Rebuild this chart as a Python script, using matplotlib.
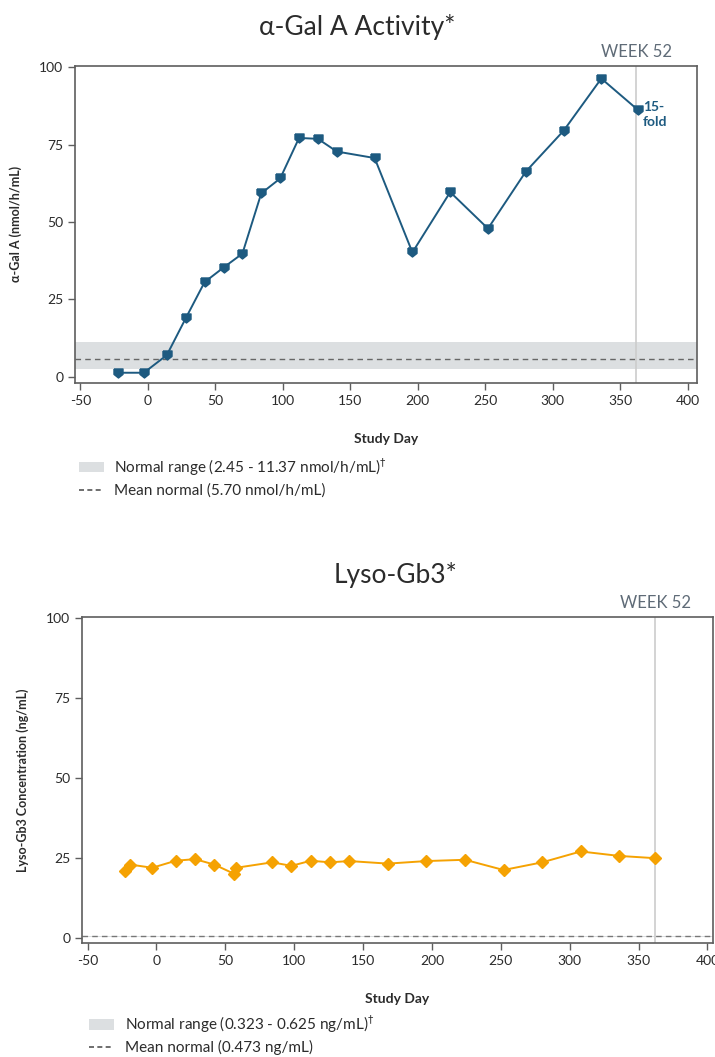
import matplotlib
matplotlib.use("Agg")
import matplotlib.pyplot as plt
import numpy as np

plt.rcParams['font.family'] = ['Lato', 'DejaVu Sans']
plt.rcParams['axes.unicode_minus'] = False

# alpha-Gal A activity (nmol/h/mL) by study day
gal_days = [-22, -3, 14, 28, 42, 56, 70, 84, 98, 112, 126, 140, 168, 196, 224, 252, 280, 308, 336, 363]
gal_vals = [1.3, 1.3, 7.0, 18.9, 30.6, 35.3, 39.8, 59.3, 64.1, 77.2, 76.9, 72.8, 70.7, 40.2, 59.7, 47.9, 66.3, 79.5, 96.4, 86.3]
gal_range = [2.45, 11.37]
gal_mean = 5.70

# Lyso-Gb3 concentration (ng/mL) by study day
lyso_days = [-23, -19, -3, 14, 28, 42, 56, 58, 84, 98, 112, 126, 140, 168, 196, 224, 252, 280, 308, 336, 362]
lyso_vals = [20.9, 22.9, 21.9, 24.1, 24.6, 22.9, 20.1, 21.9, 23.6, 22.5, 24.1, 23.6, 24.0, 23.2, 24.0, 24.4, 21.2, 23.6, 27.0, 25.6, 24.9]
lyso_range = [0.323, 0.625]
lyso_mean = 0.473

week52 = 362
xticks = [-50, 0, 50, 100, 150, 200, 250, 300, 350, 400]
yticks = [0, 25, 50, 75, 100]

blue = '#1d5a80'
orange = '#f5a202'
frame = '#5e5e5e'
band = '#dcdfe1'
txt = '#2b2b2b'

# shield-like marker: flat top, pointed bottom
shield = [(-1, 1), (1, 1), (1, -0.2), (0, -1), (-1, -0.2), (-1, 1)]


def style_axes(ax, xlim, ylim):
    ax.set_xlim(*xlim)
    ax.set_ylim(*ylim)
    ax.set_xticks(xticks)
    ax.set_yticks(yticks)
    ax.tick_params(direction='out', length=5, width=1, color=frame,
                   labelsize=10, labelcolor=txt)
    for s in ax.spines.values():
        s.set_color(frame)
        s.set_linewidth(1.2)


fig = plt.figure(figsize=(7.15, 10.57), dpi=100)

# top panel
ax1 = fig.add_axes([0.105, 0.6377, 0.870, 0.300])
ax1.axhspan(gal_range[0], gal_range[1], color=band, lw=0, zorder=0)
ax1.axhline(gal_mean, color='#666666', ls=(0, (4, 3)), lw=1, zorder=1)
ax1.axvline(week52, color='#cccccc', lw=1.2, zorder=1)
ax1.plot(gal_days, gal_vals, color=blue, lw=1.4, marker=shield, ms=6.5, zorder=3)
style_axes(ax1, (-54, 407), (-2, 100.5))
ax1.set_xlabel('Study Day', fontsize=10, fontweight='bold', labelpad=19, color=txt)
ax1.set_ylabel('α-Gal A (nmol/h/mL)', fontsize=9, fontweight='bold', labelpad=12, color=txt)
ax1.text(week52 + 5, gal_vals[-1] + 3, '15-\nfold', color=blue, fontsize=10,
         fontweight='bold', va='top', ha='left', linespacing=1.3)
ax1.text(week52, 102.5, 'WEEK 52', color='#5f6b77', fontsize=12, ha='center', va='bottom')
fig.text(0.50, 0.974, 'α-Gal A Activity*', fontsize=19, ha='center', va='center', color=txt)

# legend rows for top panel
fig.patches.append(plt.Rectangle((0.110, 0.553), 0.036, 0.010, transform=fig.transFigure,
                                 color=band, lw=0))
fig.text(0.160, 0.558, 'Normal range (2.45 - 11.37 nmol/h/mL)$^{\\dagger}$', fontsize=11,
         va='center', color=txt)
fig.lines.append(plt.Line2D([0.110, 0.146], [0.536, 0.536], transform=fig.transFigure,
                            color='#555555', ls=(0, (3, 2)), lw=1.2))
fig.text(0.160, 0.536, 'Mean normal (5.70 nmol/h/mL)', fontsize=11, va='center', color=txt)

# bottom panel
ax2 = fig.add_axes([0.1147, 0.1079, 0.8825, 0.3084])
ax2.axhspan(lyso_range[0], lyso_range[1], color=band, lw=0, zorder=0)
ax2.axhline(lyso_mean, color='#777777', ls=(0, (4, 3)), lw=1, zorder=1)
ax2.axvline(week52, color='#cccccc', lw=1.2, zorder=1)
ax2.plot(lyso_days, lyso_vals, color=orange, lw=1.4, marker='D', ms=6.5, zorder=3)
style_axes(ax2, (-54, 404), (-1.6, 100.3))
ax2.set_xlabel('Study Day', fontsize=10, fontweight='bold', labelpad=19, color=txt)
ax2.set_ylabel('Lyso-Gb3 Concentration (ng/mL)', fontsize=9, fontweight='bold', labelpad=12, color=txt)
ax2.text(week52, 102.3, 'WEEK 52', color='#5f6b77', fontsize=12, ha='center', va='bottom')
fig.text(0.553, 0.456, 'Lyso-Gb3*', fontsize=19, ha='center', va='center', color=txt)

fig.patches.append(plt.Rectangle((0.124, 0.0257), 0.036, 0.010, transform=fig.transFigure,
                                 color=band, lw=0))
fig.text(0.175, 0.031, 'Normal range (0.323 - 0.625 ng/mL)$^{\\dagger}$', fontsize=11,
         va='center', color=txt)
fig.lines.append(plt.Line2D([0.124, 0.160], [0.009, 0.009], transform=fig.transFigure,
                            color='#555555', ls=(0, (3, 2)), lw=1.2))
fig.text(0.175, 0.009, 'Mean normal (0.473 ng/mL)', fontsize=11, va='center', color=txt)

fig.savefig('out.png', dpi=100)
